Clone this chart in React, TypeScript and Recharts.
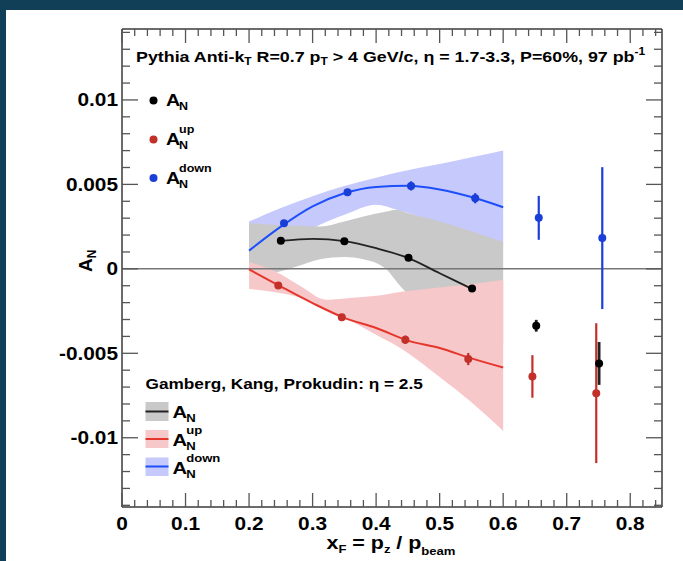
import React from 'react';
import { ComposedChart, Area, Line, Scatter, XAxis, YAxis, ErrorBar, ReferenceLine } from 'recharts';

// ---------------- data ----------------
// Pythia pseudo-data (x_F, A, stat. error)
const pythiaAN = [
  { x: 0.25, y: 0.00166, err: 0.0001 },
  { x: 0.35, y: 0.00164, err: 0.0001 },
  { x: 0.451, y: 0.00065, err: 0.00012 },
  { x: 0.551, y: -0.00117, err: 0.00015 },
  { x: 0.652, y: -0.00337, err: 0.00035 },
  { x: 0.751, y: -0.0056, err: 0.00127 },
];
const pythiaUp = [
  { x: 0.246, y: -0.00099, err: 0.0001 },
  { x: 0.346, y: -0.00286, err: 0.00012 },
  { x: 0.446, y: -0.0042, err: 0.00025 },
  { x: 0.545, y: -0.00534, err: 0.00036 },
  { x: 0.646, y: -0.00637, err: 0.00126 },
  { x: 0.7465, y: -0.00736, err: 0.00414 },
];
const pythiaDown = [
  { x: 0.255, y: 0.0027, err: 0.0001 },
  { x: 0.355, y: 0.00454, err: 0.00012 },
  { x: 0.455, y: 0.00491, err: 0.00027 },
  { x: 0.556, y: 0.00418, err: 0.0003 },
  { x: 0.656, y: 0.00302, err: 0.0013 },
  { x: 0.756, y: 0.00182, err: 0.0042 },
];

// Theory curves (Gamberg, Kang, Prokudin)
const theoryAN = [
  { x: 0.25, y: 0.00166 },
  { x: 0.3, y: 0.00178 },
  { x: 0.35, y: 0.00164 },
  { x: 0.4, y: 0.00122 },
  { x: 0.45, y: 0.00065 },
  { x: 0.5, y: -0.00026 },
  { x: 0.55, y: -0.00117 },
];
const theoryUp = [
  { x: 0.2, y: -0.00003 },
  { x: 0.25, y: -0.00105 },
  { x: 0.3, y: -0.00203 },
  { x: 0.35, y: -0.0029 },
  { x: 0.4, y: -0.0035 },
  { x: 0.45, y: -0.00425 },
  { x: 0.5, y: -0.00469 },
  { x: 0.55, y: -0.0053 },
  { x: 0.6, y: -0.00584 },
];
const theoryDown = [
  { x: 0.2, y: 0.00108 },
  { x: 0.25, y: 0.0025 },
  { x: 0.3, y: 0.0037 },
  { x: 0.35, y: 0.00448 },
  { x: 0.4, y: 0.00485 },
  { x: 0.45, y: 0.00492 },
  { x: 0.5, y: 0.0047 },
  { x: 0.55, y: 0.00425 },
  { x: 0.6, y: 0.00365 },
];

// Theory uncertainty bands [low, high]
const bandDown = [
  { x: 0.2, r: [0.0004, 0.0028] },
  { x: 0.25, r: [0.0014, 0.0036] },
  { x: 0.3, r: [0.0024, 0.0043] },
  { x: 0.35, r: [0.0032, 0.0049] },
  { x: 0.4, r: [0.0038, 0.0054] },
  { x: 0.433, r: [0.0035, 0.0057] },
  { x: 0.5, r: [0.0027, 0.0062] },
  { x: 0.55, r: [0.0021, 0.0066] },
  { x: 0.6, r: [0.0014, 0.007] },
];
const bandAN = [
  { x: 0.2, r: [-0.0004, 0.0027] },
  { x: 0.2436, r: [-0.0002, 0.0026] },
  { x: 0.28, r: [0.0002, 0.00255] },
  { x: 0.312, r: [0.00057, 0.0025] },
  { x: 0.35, r: [0.0007, 0.0028] },
  { x: 0.38, r: [0.00057, 0.0031] },
  { x: 0.417, r: [-0.00006, 0.0034] },
  { x: 0.433, r: [-0.0008, 0.0035] },
  { x: 0.45, r: [-0.0015, 0.0033] },
  { x: 0.5, r: [-0.0026, 0.0028] },
  { x: 0.6, r: [-0.0045, 0.0016] },
];
const bandUp = [
  { x: 0.2, r: [-0.0012, 0.0004] },
  { x: 0.2436, r: [-0.0014, -0.0002] },
  { x: 0.28, r: [-0.0017, -0.001] },
  { x: 0.322, r: [-0.0024, -0.00183] },
  { x: 0.35, r: [-0.0029, -0.00175] },
  { x: 0.4, r: [-0.0039, -0.0016] },
  { x: 0.443, r: [-0.0048, -0.00134] },
  { x: 0.5, r: [-0.0064, -0.0011] },
  { x: 0.55, r: [-0.0079, -0.0009] },
  { x: 0.6, r: [-0.0096, -0.00065] },
];

// Axis ticks
const xMajorTicks = [0, 0.1, 0.2, 0.3, 0.4, 0.5, 0.6, 0.7, 0.8];
const xTickLabels = ['0', '0.1', '0.2', '0.3', '0.4', '0.5', '0.6', '0.7', '0.8'];
const xMinorTicks = [
  0.02, 0.04, 0.06, 0.08, 0.12, 0.14, 0.16, 0.18, 0.22, 0.24, 0.26, 0.28,
  0.32, 0.34, 0.36, 0.38, 0.42, 0.44, 0.46, 0.48, 0.52, 0.54, 0.56, 0.58,
  0.62, 0.64, 0.66, 0.68, 0.72, 0.74, 0.76, 0.78, 0.82, 0.84,
];
const yMajorTicks = [-0.01, -0.005, 0, 0.005, 0.01];
const yTickLabels = ['-0.01', '-0.005', '0', '0.005', '0.01'];
const yMinorTicks = [
  -0.014, -0.013, -0.012, -0.011, -0.009, -0.008, -0.007, -0.006, -0.004, -0.003,
  -0.002, -0.001, 0.001, 0.002, 0.003, 0.004, 0.006, 0.007, 0.008, 0.009, 0.011,
  0.012, 0.013, 0.014,
];

// ---------------- style ----------------
const FONT = "'Liberation Sans', Arial, Helvetica, sans-serif";
const SX = 1.19;
const FRAME = '#3a3a3a';
const TICK = '#555';
const C_BLUE_PT = '#1a3ed8';
const C_BLUE_LN = '#1c4ffa';
const C_RED_PT = '#c2302a';
const C_RED_LN = '#e5362c';
const C_BAND_BLUE = '#c6c9fb';
const C_BAND_GRAY = '#c9c9c9';
const C_BAND_RED = '#f7c8c9';

const xTicksAll = [...xMajorTicks, ...xMinorTicks].sort((a, b) => a - b);
const yTicksAll = [...yMajorTicks, ...yMinorTicks].sort((a, b) => a - b);

const xLabel = (v: number) => {
  const i = xMajorTicks.findIndex((m) => Math.abs(m - v) < 1e-9);
  return i >= 0 ? xTickLabels[i] : null;
};
const yLabel = (v: number) => {
  const i = yMajorTicks.findIndex((m) => Math.abs(m - v) < 1e-9);
  return i >= 0 ? yTickLabels[i] : null;
};

const SText = ({ x, y, size, anchor = 'start', children }: any) => (
  <g transform={`translate(${x},${y}) scale(${SX},1)`}>
    <text x={0} y={0} fontSize={size} fontFamily={FONT} fontWeight="bold" textAnchor={anchor} fill="#000">
      {children}
    </text>
  </g>
);

const BottomTick = (p: any) => {
  const { x, y, payload } = p;
  const lab = xLabel(payload.value);
  const len = lab !== null ? 14 : 7;
  return (
    <g>
      <line x1={x} x2={x} y1={y} y2={y - len} stroke={TICK} strokeWidth={1.3} />
      {lab !== null && <SText x={x} y={y + 23} size={17.5} anchor="middle">{lab}</SText>}
    </g>
  );
};
const TopTick = (p: any) => {
  const { x, y, payload } = p;
  const len = xLabel(payload.value) !== null ? 14 : 7;
  return <line x1={x} x2={x} y1={y} y2={y + len} stroke={TICK} strokeWidth={1.3} />;
};
const LeftTick = (p: any) => {
  const { x, y, payload } = p;
  const lab = yLabel(payload.value);
  const len = lab !== null ? 16 : 8;
  return (
    <g>
      <line x1={x} x2={x + len} y1={y} y2={y} stroke={TICK} strokeWidth={1.3} />
      {lab !== null && <SText x={x - 4} y={y + 6.5} size={17.5} anchor="end">{lab}</SText>}
    </g>
  );
};
const RightTick = (p: any) => {
  const { x, y, payload } = p;
  const len = yLabel(payload.value) !== null ? 16 : 8;
  return <line x1={x} x2={x - len} y1={y} y2={y} stroke={TICK} strokeWidth={1.3} />;
};

const dot = (color: string, r = 4) => (p: any) => <circle cx={p.cx} cy={p.cy} r={r} fill={color} />;

const axisLine = { stroke: FRAME, strokeWidth: 1.5 };

export default function App() {
  return (
    <div style={{ position: 'absolute', left: 0, top: 0, width: 683, height: 561, background: '#123f58', overflow: 'hidden' }}>
      <div style={{ position: 'absolute', left: 6, top: 10, width: 677, height: 551, background: '#ffffff' }} />
      <div style={{ position: 'absolute', left: 0, top: 0 }}>
        <ComposedChart width={683} height={561} margin={{ top: 28, right: 20, bottom: 0, left: 0 }}>
          <XAxis
            xAxisId={0}
            dataKey="x"
            type="number"
            domain={[0, 0.85]}
            allowDataOverflow
            ticks={xTicksAll}
            interval={0}
            height={54}
            tickSize={0}
            tickMargin={0}
            tickLine={false}
            axisLine={axisLine}
            tick={(p: any) => <BottomTick {...p} />}
          />
          <XAxis
            xAxisId="top"
            orientation="top"
            dataKey="x"
            type="number"
            domain={[0, 0.85]}
            allowDataOverflow
            ticks={xTicksAll}
            interval={0}
            height={1}
            tickSize={0}
            tickMargin={0}
            tickLine={false}
            axisLine={axisLine}
            tick={(p: any) => <TopTick {...p} />}
          />
          <YAxis
            yAxisId={0}
            type="number"
            domain={[-0.0141, 0.0142]}
            allowDataOverflow
            ticks={yTicksAll}
            interval={0}
            width={122}
            tickSize={0}
            tickMargin={0}
            tickLine={false}
            axisLine={axisLine}
            tick={(p: any) => <LeftTick {...p} />}
          />
          <YAxis
            yAxisId="right"
            orientation="right"
            type="number"
            domain={[-0.0141, 0.0142]}
            allowDataOverflow
            ticks={yTicksAll}
            interval={0}
            width={1}
            tickSize={0}
            tickMargin={0}
            tickLine={false}
            axisLine={axisLine}
            tick={(p: any) => <RightTick {...p} />}
          />

          <Area data={bandDown} dataKey="r" type="monotone" fill={C_BAND_BLUE} fillOpacity={1} stroke="none" dot={false} activeDot={false} isAnimationActive={false} />
          <Area data={bandAN} dataKey="r" type="monotone" fill={C_BAND_GRAY} fillOpacity={1} stroke="none" dot={false} activeDot={false} isAnimationActive={false} />
          <Area data={bandUp} dataKey="r" type="monotone" fill={C_BAND_RED} fillOpacity={1} stroke="none" dot={false} activeDot={false} isAnimationActive={false} />

          <ReferenceLine y={0} stroke="#777" strokeWidth={1.5} />

          <Line data={theoryAN} dataKey="y" type="monotone" stroke="#222" strokeWidth={1.8} dot={false} activeDot={false} isAnimationActive={false} />
          <Line data={theoryUp} dataKey="y" type="monotone" stroke={C_RED_LN} strokeWidth={2} dot={false} activeDot={false} isAnimationActive={false} />
          <Line data={theoryDown} dataKey="y" type="monotone" stroke={C_BLUE_LN} strokeWidth={2} dot={false} activeDot={false} isAnimationActive={false} />

          <Scatter data={pythiaDown} dataKey="y" shape={dot(C_BLUE_PT)} isAnimationActive={false}>
            <ErrorBar dataKey="err" direction="y" width={0} stroke={C_BLUE_PT} strokeWidth={2.2} />
          </Scatter>
          <Scatter data={pythiaUp} dataKey="y" shape={dot(C_RED_PT)} isAnimationActive={false}>
            <ErrorBar dataKey="err" direction="y" width={0} stroke={C_RED_PT} strokeWidth={2.2} />
          </Scatter>
          <Scatter data={pythiaAN} dataKey="y" shape={dot('#000')} isAnimationActive={false}>
            <ErrorBar dataKey="err" direction="y" width={0} stroke="#222" strokeWidth={2.8} />
          </Scatter>
        </ComposedChart>
      </div>

      <svg width={683} height={561} style={{ position: 'absolute', left: 0, top: 0, pointerEvents: 'none' }}>
        {/* title */}
        <SText x={136} y={62} size={15}>
          Pythia Anti-k<tspan fontSize={10} dy={3}>T</tspan>
          <tspan dy={-3}> R=0.7 p</tspan>
          <tspan fontSize={10} dy={3}>T</tspan>
          <tspan dy={-3}> &gt; 4 GeV/c, η = 1.7-3.3, P=60%, 97 pb</tspan>
          <tspan fontSize={10} dy={-7}>-1</tspan>
        </SText>

        {/* Pythia legend */}
        <circle cx={153.5} cy={100.5} r={4} fill="#000" />
        <SText x={166} y={106} size={16.5}>
          A<tspan x={11} dy={4} fontSize={10.5}>N</tspan>
        </SText>
        <circle cx={153.5} cy={139.5} r={4} fill={C_RED_PT} />
        <SText x={166} y={145} size={16.5}>
          A<tspan x={11} dy={-12} fontSize={10.5}>up</tspan>
          <tspan x={11} dy={16} fontSize={10.5}>N</tspan>
        </SText>
        <circle cx={153.5} cy={178} r={4} fill={C_BLUE_PT} />
        <SText x={166} y={184} size={16.5}>
          A<tspan x={11} dy={-12} fontSize={10.5}>down</tspan>
          <tspan x={11} dy={16} fontSize={10.5}>N</tspan>
        </SText>

        {/* Theory legend */}
        <SText x={145.5} y={389} size={14.5}>Gamberg, Kang, Prokudin: η = 2.5</SText>
        <rect x={145.5} y={402} width={23} height={19} fill={C_BAND_GRAY} />
        <line x1={145.5} x2={168.5} y1={411.5} y2={411.5} stroke="#222" strokeWidth={2} />
        <SText x={172.5} y={418} size={17}>
          A<tspan x={11.5} dy={4} fontSize={11}>N</tspan>
        </SText>
        <rect x={145.5} y={430} width={23} height={18} fill={C_BAND_RED} />
        <line x1={145.5} x2={168.5} y1={439} y2={439} stroke={C_RED_LN} strokeWidth={2} />
        <SText x={172.5} y={446} size={17}>
          A<tspan x={11.5} dy={-12} fontSize={11}>up</tspan>
          <tspan x={11.5} dy={16} fontSize={11}>N</tspan>
        </SText>
        <rect x={145.5} y={457.5} width={23} height={18.5} fill={C_BAND_BLUE} />
        <line x1={145.5} x2={168.5} y1={466.5} y2={466.5} stroke={C_BLUE_LN} strokeWidth={2} />
        <SText x={172.5} y={473.5} size={17}>
          A<tspan x={11.5} dy={-12} fontSize={11}>down</tspan>
          <tspan x={11.5} dy={16} fontSize={11}>N</tspan>
        </SText>

        {/* axis titles */}
        <SText x={391} y={549} size={18} anchor="middle">
          x<tspan fontSize={11} dy={4}>F</tspan>
          <tspan dy={-4}> = p</tspan>
          <tspan fontSize={11} dy={4}>z</tspan>
          <tspan dy={-4}> / p</tspan>
          <tspan fontSize={11} dy={6}>beam</tspan>
        </SText>
        <g transform="translate(92,272) rotate(-90)">
          <text x={0} y={0} fontSize={19} fontFamily={FONT} fontWeight="bold" fill="#000">
            A<tspan fontSize={12} dy={4}>N</tspan>
          </text>
        </g>
      </svg>
    </div>
  );
}
